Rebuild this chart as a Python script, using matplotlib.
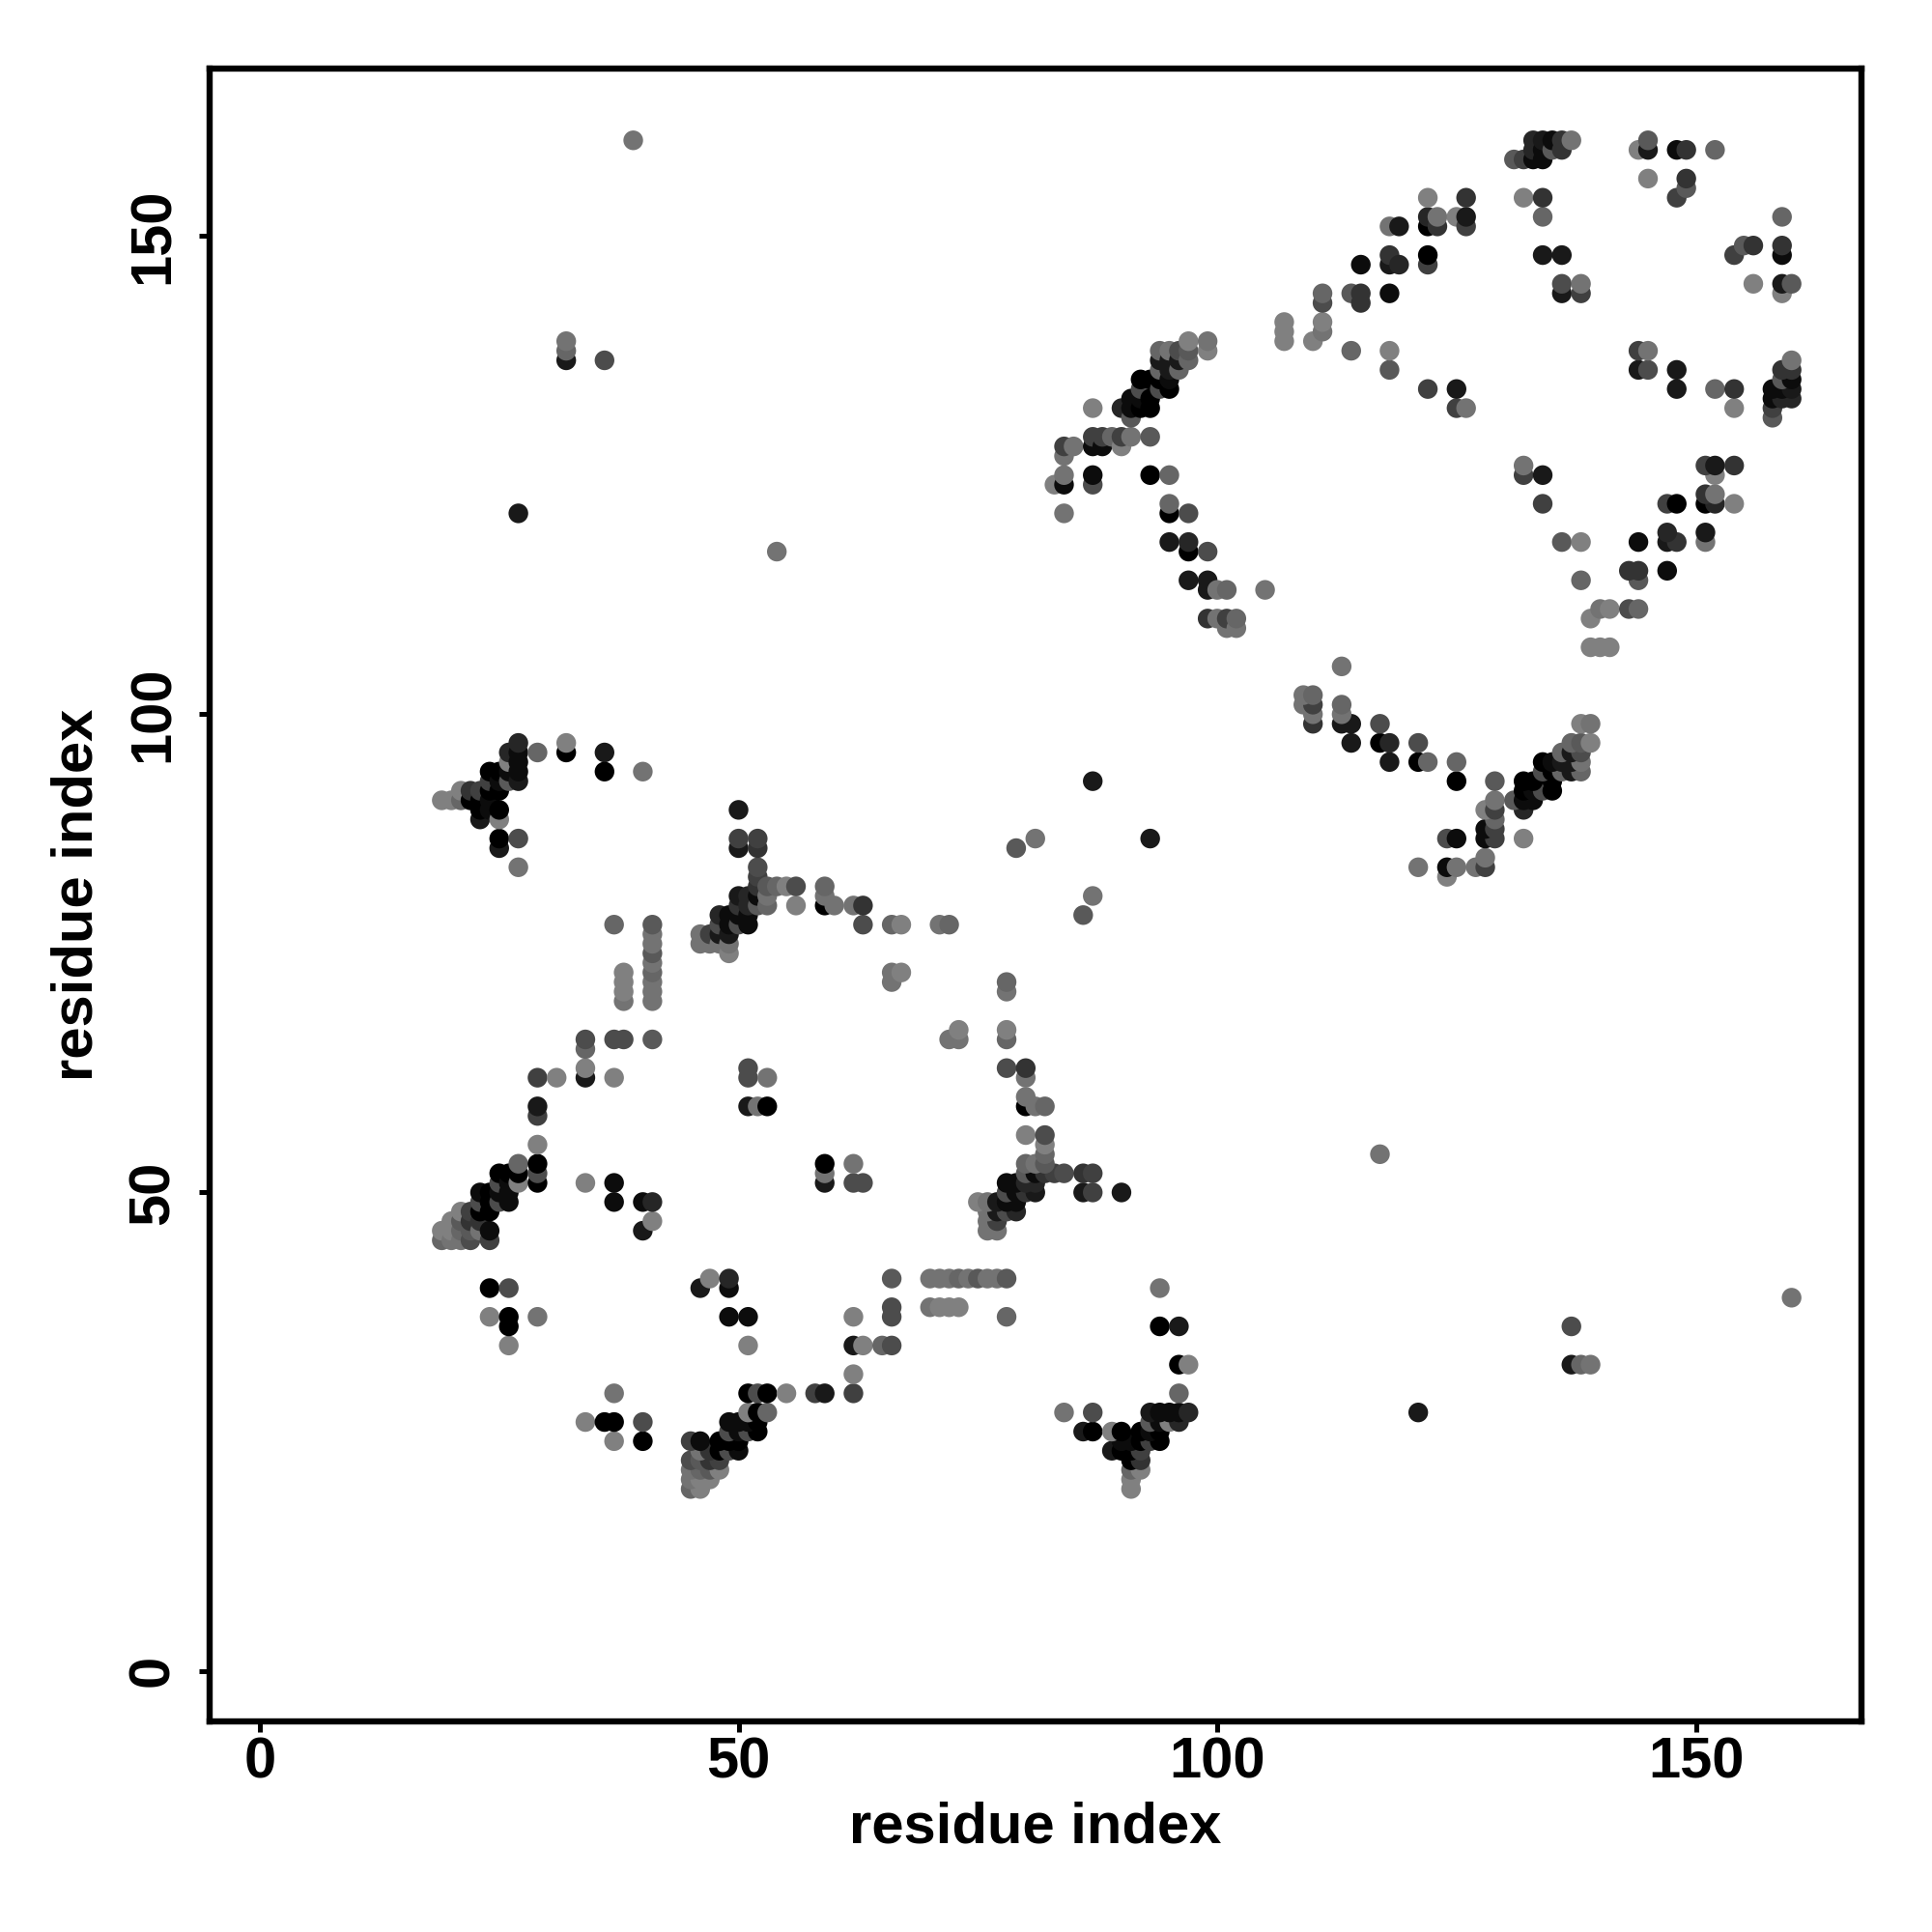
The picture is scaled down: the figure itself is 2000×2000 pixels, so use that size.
import numpy as np
import matplotlib
matplotlib.use("Agg")
import matplotlib.pyplot as plt

# contacts, i < j; the map is symmetric so each one is drawn twice
res_i = [19,19,19,
	20,20,20,20,
	21,21,21,21,21,21,
	22,22,22,22,22,22,
	23,23,23,23,23,23,23,23,23,
	24,24,24,24,24,24,24,24,24,24,24,24,
	25,25,25,25,25,25,25,25,25,25,25,
	26,26,26,26,26,26,26,26,26,26,26,26,
	27,27,27,27,27,27,27,27,27,27,27,
	29,29,29,29,29,29,29,29,29,
	31,
	32,32,32,32,32,
	34,34,34,34,34,
	36,36,36,
	37,37,37,37,37,
	38,38,38,38,38,
	39,
	40,40,40,
	41,41,41,41,41,41,41,41,41,41,41,41,
	46,46,
	47,47,
	48,48,48,48,
	49,49,49,49,49,
	50,50,50,50,50,50,50,
	51,51,51,51,51,51,51,
	52,52,52,52,52,52,52,52,
	53,53,53,53,53,
	54,54,
	55,
	56,56,
	59,59,59,
	60,
	62,
	63,63,
	66,66,66,
	67,67,
	71,
	72,
	79,
	81,
	83,
	84,84,84,84,84,
	85,
	87,87,87,87,87,87,
	88,88,
	89,
	90,90,90,
	91,91,91,91,
	92,92,92,92,
	93,93,93,93,93,
	94,94,94,94,94,
	95,95,95,95,95,95,95,95,95,
	96,96,96,
	97,97,97,97,97,97,97,
	99,99,99,99,99,99,
	100,100,
	101,101,101,
	102,102,
	105,
	107,107,107,
	110,
	111,111,111,111,
	114,114,
	115,115,115,
	118,118,118,118,118,118,
	119,119,
	122,122,122,122,122,122,
	123,123,
	125,125,125,
	126,126,126,126,
	131,
	132,132,
	133,133,133,
	134,134,134,134,134,134,
	135,135,
	136,136,136,136,136,
	137,
	138,138,
	144,
	145,145,145,
	148,148,
	149,149,149,
	152]

res_j = [45,46,91,
	45,46,47,91,
	45,46,47,48,91,92,
	45,46,47,48,91,92,
	46,47,48,49,50,89,90,91,92,
	37,40,45,46,48,49,50,90,91,92,93,94,
	49,50,51,52,86,87,89,90,92,93,94,
	34,36,37,40,49,50,51,52,93,94,95,96,
	51,52,53,84,87,93,94,95,96,97,121,
	37,51,52,53,55,58,59,62,96,
	62,
	96,97,137,138,139,
	51,62,63,65,66,
	94,96,137,
	49,51,62,66,78,
	66,70,71,72,73,
	160,
	46,49,94,
	47,49,66,70,71,72,73,74,75,76,77,78,
	76,77,
	76,77,
	76,77,78,79,
	75,76,77,78,79,
	78,79,80,81,86,87,90,
	59,62,63,78,79,80,81,
	59,80,81,82,83,84,86,87,
	59,62,80,81,82,
	82,117,
	82,
	80,82,
	80,81,82,
	80,
	80,
	78,80,
	72,73,78,
	73,78,
	78,
	78,
	86,
	87,
	124,
	121,124,125,127,128,
	128,
	93,124,125,128,129,132,
	128,129,
	129,
	128,129,132,
	129,131,132,133,
	132,133,134,135,
	125,129,132,133,135,
	134,135,136,137,138,
	118,121,122,125,134,135,136,137,138,
	136,137,138,
	114,117,118,121,137,138,139,
	110,113,114,117,138,139,
	110,113,
	109,110,113,
	109,110,
	113,
	139,140,141,
	139,
	140,141,143,144,
	138,144,
	143,144,147,
	136,138,144,147,148,151,
	147,151,
	134,147,148,151,152,154,
	151,152,
	132,134,152,
	132,151,152,154,
	158,
	154,158,
	158,159,160,
	148,152,154,158,159,160,
	159,160,
	144,145,148,159,160,
	160,
	144,145,
	159,
	156,159,160,
	154,159,
	155,156,159,
	159]

# darkness of each contact, 0.5 is the palest, 1 is black
prob = [.6,.5,.5,
	.55,.5,.5,.5,
	.55,.6,.65,.5,.6,.5,
	.7,.65,.8,.75,1,.8,
	.55,.8,1,.7,.95,.9,1,1,.75,
	.5,1,.75,.95,1,1,1,.95,.95,1,.75,1,
	.7,.95,.7,1,.9,1,.5,1,1,.95,1,
	.5,1,1,.7,.95,.95,.95,1,.65,.95,.5,.85,
	.5,1,.6,.55,.7,.9,.95,.95,.95,.85,.9,
	.55,1,.7,1,.5,.75,.9,.75,.6,
	.5,
	1,.5,.9,.6,.55,
	.5,.9,.5,.6,.7,
	1,.9,.7,
	.95,.95,.5,.7,.6,
	.7,.55,.5,.5,.5,
	.55,
	.9,.95,.55,
	.5,.85,.65,.55,.55,.55,.6,.55,.65,.55,.55,.65,
	.55,.55,
	.55,.75,
	.55,.9,.7,.85,
	.5,.55,.9,.95,.95,
	.7,.95,.8,.9,.9,.75,.9,
	.9,.7,.7,.95,.95,.85,.85,
	.55,.65,.95,.8,.75,.7,.8,.75,
	1,.55,.6,.55,.65,
	.6,.55,
	.5,
	.5,.7,
	1,.55,.6,
	.55,
	.55,
	.7,.8,
	.55,.55,.6,
	.5,.5,
	.55,
	.6,
	.65,
	.55,
	.5,
	.55,.95,.55,.55,.75,
	.55,
	.9,.7,.95,.95,.75,.5,
	.95,.75,
	.6,
	.5,.75,.85,
	.55,.65,.95,.95,
	1,.95,.7,1,
	1,.65,1,1,1,
	.7,1,.6,.9,.6,
	.9,1,.6,.6,1,.95,.9,.9,.55,
	.6,.9,.7,
	.9,1,.85,.7,.6,.65,.5,
	.8,.9,.9,.7,.5,.55,
	.55,.55,
	.55,.75,.6,
	.55,.6,
	.55,
	.5,.5,.5,
	.5,
	.55,.5,.7,.6,
	.6,.65,
	.8,.8,.95,
	.65,.5,.95,.9,.8,.55,
	.85,.9,
	.75,.75,1,1,.85,.5,
	.8,.55,
	.75,.9,.5,
	.55,.75,.9,.8,
	.65,
	.5,.75,
	.95,.85,.85,
	.9,.6,.8,.95,.95,.9,
	.65,.95,
	.9,.7,.9,.8,.8,
	.55,
	.75,.55,
	.5,
	.5,.9,.65,
	.75,.95,
	.65,.8,.8,
	.6]

xticks = [0, 50, 100, 150]
yticks = [0, 50, 100, 150]

res_i = np.array(res_i)
res_j = np.array(res_j)
prob = np.array(prob)

# later (i, j) sit on top of earlier ones
order = np.lexsort((res_j, res_i))
x = np.concatenate([res_i[order], res_j[order]])
y = np.concatenate([res_j[order], res_i[order]])
greys = 1 - np.concatenate([prob[order], prob[order]])

plt.rcParams['font.family'] = ['Liberation Sans', 'DejaVu Sans']
plt.rcParams['font.weight'] = 'bold'

fig = plt.figure(figsize=(20, 20), dpi=100)
ax = fig.add_axes([217/2000, 1-1782/2000, 1710/2000, 1711/2000])
ax.scatter(x, y, s=215, c=greys, cmap='gray', vmin=0, vmax=1, linewidths=0, zorder=2)

ax.set_xlim(-5.25, 167.3)
ax.set_ylim(-5.3, 167.5)
ax.set_xticks(xticks)
ax.set_yticks(yticks)
ax.set_xticklabels([str(t) for t in xticks], fontsize=43, fontweight='bold')
ax.set_yticklabels([str(t) for t in yticks], fontsize=43, fontweight='bold', rotation=90, va='center')
ax.tick_params(length=8, width=3.6)
ax.tick_params(axis='x', pad=3)
ax.tick_params(axis='y', pad=14)
ax.set_xlabel('residue index', fontsize=43, fontweight='bold', labelpad=9)
ax.set_ylabel('residue index', fontsize=43, fontweight='bold', labelpad=17)
for s in ax.spines.values():
	s.set_linewidth(4.6)

fig.savefig('out.png', dpi=100)
